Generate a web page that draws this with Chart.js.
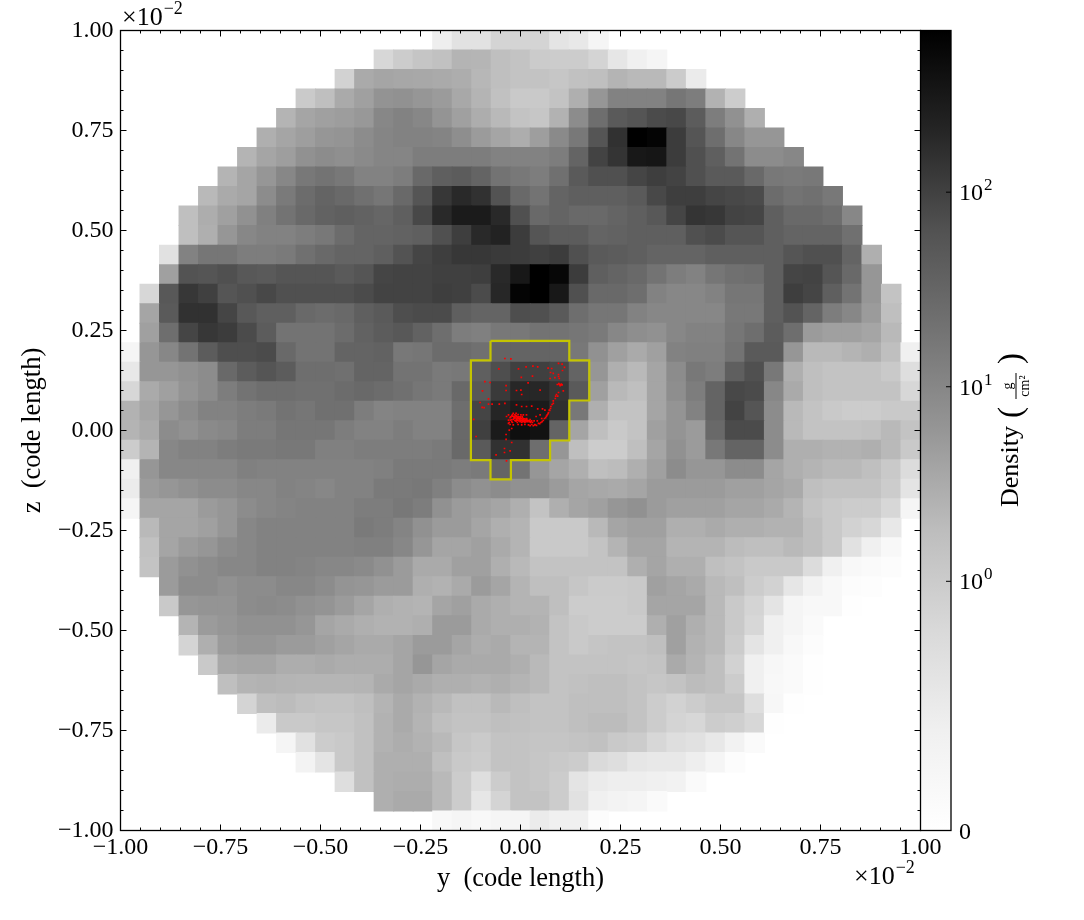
<!DOCTYPE html>
<html>
<head>
<meta charset="utf-8">
<style>
    body { margin: 0; background: #fff; overflow: hidden; }
    canvas { position: absolute; top: 0; }
</style>
<script src="https://cdn.jsdelivr.net/npm/chart.js@4/dist/chart.umd.js"></script>
</head>
<body>
<canvas id="sliceChart" width="1084" height="920" style="left:0"></canvas>
<canvas id="colorbar" width="164" height="920" style="left:920px"></canvas>
<script>
// first filled column of each row, top row first
const rowStart = [16, 13, 11, 9, 8, 7, 6, 5, 4, 3, 3, 2, 2, 1, 1, 1, 0, 0, 0, 0, 0, 0, 0, 0, 0, 1, 1, 1, 2, 2, 3, 3, 4, 5, 6, 7, 8, 9, 11, 13, 16];

// density in g/cm2, one list per row
const density = [
    [.44,.64,.64,.88,.88,.88,.61,.54,.27],
    [.83,.99,1.3,1.55,2.4,2.3,1.7,1.4,1.03,.99,.99,.88,.57,.4,.27],
    [.91,3.2,3.8,3.6,3.5,3.2,3,2.2,1.7,1.4,1.4,1.25,1.55,1.7,2.4,2.06,2.06,1.03,.49],
    [1.05,1.7,3.2,4.4,6.6,7.1,6,5.1,3.5,2.4,1.55,1.1,1.1,1.4,2.8,6,11.7,11.7,11.7,17.5,13.9,2.55,.99],
    [2.4,3.8,4.4,4.8,5.6,9.9,11.7,9.9,6.4,4.4,3,2.06,1.4,1.25,2.55,8.4,23,48,58,76,83,44,13.9,7.1,2.8],
    [2.8,3.8,4.7,6,6.4,8.4,10.5,11.7,11.7,10.9,7.9,5.1,3.8,3,4.7,9,16.4,58,150,690,600,113,58,23,9.9,6,6],
    [2.4,3.8,4.7,7.1,8.4,7.6,9,10.5,10.5,13.9,13.9,13.9,13.9,11.7,11.7,11.7,13.9,33,95,140,310,340,113,67,40,19.5,8.4,8.4,9.9],
    [2.4,3.8,6,9.9,16.4,19.5,16.4,11.7,11.7,13.9,28,40,44,33,19.5,16.4,13.9,21.5,48,67,67,90,108,95,67,48,48,28,16.4,15.3,16.4],
    [2.06,3.2,3.8,8.4,15.3,25,33,28,21.5,17.5,28,58,130,185,150,62,28,19.5,33,40,40,40,48,83,108,108,90,83,76,25,19.5,21.5,16.4],
    [1.7,3,4.4,7.1,12.5,19.5,28,36,40,36,31,40,83,185,285,285,185,67,28,33,28,28,33,40,52,90,140,130,95,90,40,28,28,23,9.9],
    [1.7,2.8,6,9.9,11.7,11.7,13.9,16.4,25,33,33,36,40,67,108,185,230,113,58,44,44,33,36,40,40,40,67,76,58,58,40,33,33,33,21.5],
    [.66,11.7,17.5,17.5,13.9,13.9,15.3,21.5,28,33,33,40,62,90,108,130,130,120,113,103,113,67,48,44,40,33,33,33,40,40,40,40,58,67,67,33,2.8],
    [4.4,62,58,67,52,48,58,58,58,48,58,90,95,95,103,103,108,185,310,690,540,113,40,33,28,19.5,13.9,11.7,17.5,21.5,23,40,90,95,58,28,6],
    [.83,52,130,103,58,67,83,67,67,67,67,76,95,95,95,108,103,76,195,600,690,310,67,28,28,23,11.7,9.9,9.9,11.7,17.5,17.5,40,108,90,40,19.5,6,1.4],
    [3.8,48,150,150,90,52,40,40,28,25,28,40,48,70,76,76,40,33,33,70,67,48,23,17.5,17.5,11.7,9.9,9.9,9.9,9.9,16.4,16.4,40,62,33,13.9,9.9,5.1,1.7],
    [4.4,23,90,130,113,76,44,19.5,19.5,19.5,25,36,44,52,36,23,13.9,12.5,16.4,16.4,19.5,19.5,17.5,15.3,9.9,7.9,7.1,9.9,11.7,11.7,17.5,23,44,23,5.1,4.4,4.4,3.8,2.06],
    [.27,6,9.9,19.5,44,70,70,76,28,19.5,19.5,33,33,36,16.4,17.5,25,25,21.5,33,33,33,33,16.4,7.1,4.4,3.2,4.4,11.7,12.5,12.5,19.5,48,48,6,2.06,2.06,2.4,2.8,1.7,.4],
    [.54,6,6,7.1,8.4,28,44,58,44,23,23,21.5,33,33,19.5,19.5,15.3,16.4,40,70,103,103,90,33,6,2.8,2.06,3.8,8.4,16.4,13.9,40,67,16.4,2.8,1.7,1.4,1.4,1.4,1.1,.72],
    [.83,3.2,4.4,6.4,8.4,13.9,19.5,23,23,21.5,21.5,25,28,25,21.5,17.5,15.3,28,52,120,195,195,140,48,4.4,2.06,1.7,3.8,7.9,13.9,33,83,76,9.9,3.2,1.7,1.4,1.4,1.4,1.4,.83],
    [2.55,3.8,6,8.4,11.7,11.7,13.9,15.3,19.5,17.5,21.5,21.5,13.9,10.9,11.7,11.7,11.7,23,90,205,285,285,160,16.4,2.8,1.4,1.4,3.8,6.4,11.7,33,95,58,8.4,2.06,1.4,1.1,.99,.99,1.1,1.1],
    [2.4,3.2,8.4,7.1,9,9.9,13.9,13.9,17.5,17.5,17.5,13.9,11.7,11.7,13.9,11.7,11.7,28,103,285,420,380,33,3.8,1.7,1.1,1.4,4.4,6.4,5.1,28,76,76,8.4,2.06,1.4,1.4,1.4,1.55,2.06,1.4],
    [.99,2.4,9.9,11.7,11.7,13.9,15.3,15.3,16.4,16.4,12.5,12.5,13.9,13.9,13.9,13.9,15.3,28,48,150,150,23,6,1.7,.99,.99,1.7,3.8,7.1,5.1,16.4,33,33,8.4,2.8,2.8,2.55,2.55,2.8,2.06,1.1],
    [.4,6,9.9,9.9,9.9,9.9,12.5,11.7,11.7,11.7,11.7,11.7,11.7,12.5,15.3,15.3,15.3,13.9,15.3,33,19.5,6,3.8,2.8,1.7,1.9,2.8,4.4,8.4,6,6,8.4,8.4,3.8,2.8,2.4,2.06,2.06,1.7,1.1,.75],
    [.49,5.1,6,7.1,8.4,8.4,9.9,9.9,11.7,10.9,9.9,11.7,11.7,15.3,15.3,16.4,12.5,8.4,7.1,8.4,7.1,7.1,5.1,3.8,3.5,3.2,3.8,5.1,5.1,5.1,5.1,4.4,4.4,3.8,3.2,1.7,1.4,1.4,1.4,.99,.61],
    [.27,3.8,3.8,3.8,5.1,6,8.4,9.9,10.9,11.7,11.7,11.7,13.9,13.9,16.4,13.9,7.1,5.1,4.4,3.8,2.8,1.4,2.8,3.8,4.4,6,7.1,5.1,4.4,4.4,4.4,3.8,3.8,3.2,2.4,1.4,1.1,.99,.99,.83,.27],
    [2.06,3.8,3.8,4.4,6,9.9,11.7,11.7,11.7,11.7,11.7,15.3,13.9,10.9,7.1,5.1,5.1,3.8,2.8,2.4,1.1,1.1,1.1,2.06,3.8,4.4,4.4,2.8,2.8,3.2,2.8,2.8,2.55,2.55,1.7,1.1,.91,.83,.54],
    [1.55,3.8,5.1,6,8.4,9.9,11.7,11.7,11.7,11.7,11.7,12.5,12.5,9.9,6,3.8,3.8,4.4,3.2,2.4,1.1,1.1,1.1,1.4,2.4,3.8,3.8,2.4,2.4,2.4,1.9,1.7,1.7,2.06,1.7,1.1,.66,.4,.18],
    [1.4,5.1,7.1,8.4,9.9,9.9,11.7,11.7,10.9,9.9,9.9,9,7.1,5.1,3.2,3.2,4.4,4.4,2.8,2.06,1.4,1.4,1.4,1.4,1.4,2.8,3.8,2.8,2.8,1.7,1.4,1.1,1.1,1.1,.75,.4,.2,.13,.08],
    [5.1,8.4,8.4,7.1,8.4,8.4,9.9,9.9,8.4,6.4,6,5.1,5.1,2.8,2.55,3.2,5.1,3.8,2.4,1.7,1.7,1.25,1.03,1.03,1.1,4.4,3.8,3.2,2.06,1.7,.99,.91,.57,.34,.18,.08,.05],
    [1.1,6,6.4,6.4,8.4,9,8.4,7.1,6.4,5.1,3.8,2.8,2.55,2.4,3.8,4.4,3.2,2.8,2.4,2.4,1.7,.99,.99,.99,1.1,3.8,3.8,3.8,2.06,1.1,.88,.61,.27,.18,.18,.03],
    [2.4,5.1,6,7.1,7.1,7.1,6,3.8,3.2,2.8,2.55,2.55,2.8,5.1,5.1,3.2,2.8,2.8,2.55,1.4,1.1,.99,.99,.99,2.8,4.4,2.8,2.06,1.1,.83,.4,.27,.13],
    [.88,2.8,5.1,6,6,5.1,5.1,4.4,3.8,3.2,3.2,3.8,5.1,5.1,3.8,3,3.2,2.4,2.4,1.4,1.1,1.3,1.4,1.4,1.7,4.4,2.55,2.06,.99,.61,.4,.2,.08],
    [1.1,3.5,3.8,3.8,3,3,3.2,3,3,3,3.8,6,3.8,3.2,3.2,3.2,2.8,2.06,1.4,1.4,1.4,1.4,1.3,1.4,3.2,2.4,1.7,.91,.4,.22,.13,.03],
    [1.7,2.4,2.55,2.4,2.3,2.3,2.3,2.4,3.2,3.8,3.2,2.8,2.8,2.55,2.8,2.4,2.06,1.4,1.55,1.7,1.7,1.4,1.25,1.4,1.9,1.7,.99,.4,.2,.13,.03],
    [.88,1.7,1.9,1.55,1.4,1.4,1.7,2.4,3.2,2.55,2.06,1.55,1.55,2.06,1.7,1.4,1.4,1.7,1.7,1.7,1.4,.99,.91,.99,1.25,1.25,.72,.22,.03],
    [.49,1.1,1.1,1.25,1.25,1.55,2.55,3.2,2.4,1.7,1.4,1.4,1.7,1.55,1.4,1.4,1.7,1.9,1.9,1.4,.99,.88,.83,.99,.94,.83,.03],
    [.27,.66,.99,1.1,1.55,2.55,3,2.55,2.06,1.25,1.05,1.4,1.4,1.3,1.3,1.4,1.55,1.1,.99,.83,.72,.66,.54,.34,.13],
    [.32,.61,1.1,1.55,2.8,2.8,2.8,1.7,1.1,.99,1.4,1.4,1.25,1.1,.99,.79,.72,.57,.54,.54,.44,.27,.08],
    [.72,1.55,2.8,3,3,2.06,.99,.72,.99,1.4,1.25,.99,.61,.49,.44,.44,.4,.34,.13],
    [2.8,3.2,3.2,2.06,.99,.57,.88,1.4,1.4,.99,.66,.4,.32,.27,.13],
    [.18,.27,.18,.27,.27,.49,.4,.4,.08]
];

// yellow outline, y and z in units of 1e-2 code length
const contourY = [-.075, .122, .122, .172, .172, .122, .122, .074, .074, -.024, -.024, -.075, -.075, -.124, -.124, -.075, -.075];
const contourZ = [.224, .224, .1755, .1755, .075, .075, -.025, -.025, -.074, -.074, -.122, -.122, -.074, -.074, .1755, .1755, .224];

// red particles, same units
const particleY = [-.039,-.024,-.054,-.005,.014,.031,.043,.069,.078,.095,.104,.110,.105,.082,.095,.074,.086,.097,.002,.030,-.089,-.076,-.095,-.036,-.036,-.010,.001,.003,.019,.049,-.101,-.096,-.091,-.080,-.080,-.071,-.053,-.039,-.117,-.111,-.036,-.022,-.040,-.026,-.040,-.061,-.035,-.010,.003,.015,.028,.043,.055,.061,
    .092,.097,.101,.104,.095,.090,.088,.093,.107,.087,.082,.079,.075,.070,.067,.063,.057,.051,.045,.036,.028,.020,.011,.003,.049,.039,.072,.082,.095,.075,
    -.035,-.030,-.026,-.022,-.020,-.018,-.016,-.014,-.014,-.011,-.010,-.008,-.006,-.006,-.003,-.001,.000,.003,.005,.007,.009,.011,.014,.015,.017,.020,.022,.024,.025,.028,.030,.034,-.025,-.022,-.020,-.028,-.030,-.026,-.018,-.010,-.008,-.001,.003,.005,.011,-.014,-.018,-.011,-.006,.001,.007,.015,-.022,-.028,-.036,-.030,-.006,.036,.042,.053,
    -.024,-.020,-.016,-.012,-.008,-.004,.000,.004,.008,.012,.016,-.022,-.018,-.014,-.010,-.006,-.002,.002,.006,.010,.014,.018,.022,.026,-.012,-.008,-.004,.000,.004,.008,.012,.076,.073,.069,.065,.060,.054,.048,.040,.032,.024,.096,.099,.102];
const particleZ = [.180,.179,.154,.154,.159,.161,.159,.156,.155,.168,.166,.158,.150,.143,.140,.130,.132,.130,.133,.136,.122,.120,.099,.112,.100,.100,.101,.090,.119,.101,.070,.058,.057,.079,.066,.066,.066,.068,.028,-.015,-.022,-.030,-.045,-.051,-.055,-.061,-.076,.064,.060,.060,.061,.054,.054,.051,
    .115,.115,.114,.114,.095,.090,.086,.086,.099,.080,.074,.065,.055,.045,.039,.032,.025,.020,.018,.015,.015,.014,.015,.014,.039,.035,.051,.068,.135,.145,
    .035,.039,.032,.037,.040,.035,.030,.039,.034,.030,.036,.032,.035,.029,.030,.034,.029,.030,.032,.028,.024,.029,.026,.030,.024,.025,.022,.027,.020,.024,.020,.024,.026,.022,.020,.020,.026,.015,.014,.024,.020,.022,.020,.024,.020,.025,.043,.043,.040,.039,.039,.039,.005,.001,-.010,.018,.015,.014,.024,.030,
    .034,.036,.033,.037,.033,.034,.032,.035,.029,.026,.028,.027,.028,.032,.027,.031,.027,.026,.027,.024,.022,.022,.024,.022,.024,.026,.024,.024,.022,.022,.024,.060,.050,.042,.036,.030,.022,.017,.013,.012,.012,.117,.112,.116];

const gridSize = 41;
const cbTickValues = [0, 1, 10, 100];

// Greys colormap stops, white to black
const greysStops = [255, 240, 217, 189, 150, 115, 82, 37, 0];

const serif = '"Liberation Serif", "DejaVu Serif", serif';

// symlog colour norm: 0 at the bottom, 1 at 31% of the bar, 0.243 per decade above
function normDensity(v) {
    return v < 1 ? v * 0.3115 : Math.min(1, 0.3115 + 0.2432 * Math.log10(v));
}

function greys(f) {
    const p = f * (greysStops.length - 1);
    const i = Math.min(Math.floor(p), greysStops.length - 2);
    const g = Math.round(greysStops[i] + (greysStops[i + 1] - greysStops[i]) * (p - i));
    return 'rgb(' + g + ',' + g + ',' + g + ')';
}

const cells = [];
density.forEach((row, r) => {
    row.forEach((v, k) => {
        cells.push({
            x: -1 + (rowStart[r] + k + 0.5) * 2 / gridSize,
            y: 1 - (r + 0.5) * 2 / gridSize,
            v: v
        });
    });
});

const contour = contourY.map((y, i) => ({ x: y, y: contourZ[i] }));
const particles = particleY.map((y, i) => ({ x: y, y: particleZ[i] }));

// text with a raised exponent, used for 10^2 and the x10^-2 offsets
function drawPower(ctx, base, power, x, y, size) {
    ctx.textAlign = 'left';
    ctx.textBaseline = 'alphabetic';
    ctx.font = size + 'px ' + serif;
    ctx.fillText(base, x, y);
    const w = ctx.measureText(base).width;
    ctx.font = Math.round(size * 0.7) + 'px ' + serif;
    ctx.fillText(power, x + w + 1, y - size * 0.42);
}

const frameAndTicks = {
    id: 'frameAndTicks',
    afterDatasetsDraw(chart) {
        const { ctx, chartArea: a, scales } = chart;
        ctx.save();
        ctx.strokeStyle = '#000';
        ctx.lineWidth = 1;
        ctx.beginPath();
        for (let i = 0; i <= 40; i++) {
            const v = -1 + i * 0.05;
            const len = i % 5 === 0 ? 6 : 3;
            const px = scales.x.getPixelForValue(v);
            const py = scales.y.getPixelForValue(v);
            ctx.moveTo(px, a.bottom); ctx.lineTo(px, a.bottom - len);
            ctx.moveTo(px, a.top); ctx.lineTo(px, a.top + len);
            ctx.moveTo(a.left, py); ctx.lineTo(a.left + len, py);
            ctx.moveTo(a.right, py); ctx.lineTo(a.right - len, py);
        }
        ctx.stroke();
        ctx.lineWidth = 1.3;
        ctx.strokeRect(a.left, a.top, a.right - a.left, a.bottom - a.top);

        ctx.fillStyle = '#000';
        drawPower(ctx, '\u00d710', '\u22122', 122, 25, 26);
        drawPower(ctx, '\u00d710', '\u22122', 854, 884, 26);
        ctx.restore();
    }
};

const sliceCtx = document.getElementById('sliceChart').getContext('2d');
const sliceChart = new Chart(sliceCtx, {
    type: 'scatter',
    data: {
        datasets: [{
            label: 'particles',
            data: particles,
            order: 1,
            pointStyle: 'rect',
            pointRadius: 1.2,
            pointBorderWidth: 0,
            pointBackgroundColor: '#ff0000'
        }, {
            label: 'contour',
            data: contour,
            order: 2,
            showLine: true,
            borderColor: '#c4c400',
            borderWidth: 2.2,
            pointRadius: 0
        }, {
            label: 'density',
            data: cells,
            order: 3,
            pointStyle: 'rect',
            pointBorderWidth: 0,
            pointRadius: ctx => (ctx.chart.scales.x.width / gridSize + 1) * Math.SQRT1_2,
            pointBackgroundColor: ctx => greys(normDensity(ctx.raw.v))
        }]
    },
    options: {
        responsive: false,
        animation: false,
        events: [],
        layout: { padding: { top: 30.5, right: 163.5, left: 0, bottom: 0 } },
        plugins: { legend: { display: false }, tooltip: { enabled: false } },
        scales: {
            x: {
                type: 'linear',
                min: -1,
                max: 1,
                afterFit: scale => { scale.height = 89.5; },
                grid: { display: false },
                border: { display: false },
                ticks: {
                    stepSize: 0.25,
                    maxRotation: 0,
                    autoSkip: false,
                    padding: -5,
                    color: '#000',
                    font: { family: serif, size: 24 },
                    callback: v => v.toFixed(2).replace('-', '\u2212')
                },
                title: {
                    display: true,
                    text: 'y  (code length)',
                    color: '#000',
                    font: { family: serif, size: 26.5 },
                    padding: { top: 0, bottom: 25 }
                }
            },
            y: {
                type: 'linear',
                min: -1,
                max: 1,
                afterFit: scale => { scale.width = 120.5; },
                grid: { display: false },
                border: { display: false },
                ticks: {
                    stepSize: 0.25,
                    autoSkip: false,
                    padding: -1,
                    color: '#000',
                    font: { family: serif, size: 24 },
                    callback: v => v.toFixed(2).replace('-', '\u2212')
                },
                title: {
                    display: true,
                    text: 'z  (code length)',
                    color: '#000',
                    font: { family: serif, size: 26.5 },
                    padding: { top: 17, bottom: 0 }
                }
            }
        }
    },
    plugins: [frameAndTicks]
});

const colorbarDecor = {
    id: 'colorbarDecor',
    afterDatasetsDraw(chart) {
        const { ctx, chartArea: a, scales } = chart;
        ctx.save();
        ctx.strokeStyle = '#000';
        ctx.fillStyle = '#000';
        ctx.lineWidth = 1.3;
        ctx.strokeRect(a.left, a.top, a.right - a.left, a.bottom - a.top);
        ctx.lineWidth = 1;
        cbTickValues.forEach(v => {
            const py = scales.y.getPixelForValue(normDensity(v));
            if (v === 0) {
                ctx.font = '24px ' + serif;
                ctx.textAlign = 'left';
                ctx.textBaseline = 'alphabetic';
                ctx.fillText('0', a.right + 8, py + 8);
                return;
            }
            ctx.beginPath();
            ctx.moveTo(a.right - 5, py);
            ctx.lineTo(a.right, py);
            ctx.stroke();
            drawPower(ctx, '10', String(Math.round(Math.log10(v))), a.right + 8, py + 8, 24);
        });

        // rotated label with the unit fraction, reading bottom to top
        ctx.translate(98, 0);
        ctx.rotate(-Math.PI / 2);
        ctx.textAlign = 'left';
        ctx.textBaseline = 'alphabetic';
        ctx.font = '26px ' + serif;
        ctx.fillText('Density', -507, 0);
        ctx.font = '33px ' + serif;
        ctx.fillText('(', -418, 3);
        ctx.fillText(')', -364, 3);
        ctx.textAlign = 'center';
        ctx.font = '14px ' + serif;
        ctx.fillText('g', -386, -6);
        ctx.fillText('cm\u00b2', -386, 11);
        ctx.lineWidth = 1;
        ctx.beginPath();
        ctx.moveTo(-399, -2);
        ctx.lineTo(-373, -2);
        ctx.stroke();
        ctx.restore();
    }
};

const barCtx = document.getElementById('colorbar').getContext('2d');
const colorbar = new Chart(barCtx, {
    type: 'bar',
    data: {
        labels: ['Density'],
        datasets: [{
            data: [[0, 1]],
            barPercentage: 1,
            categoryPercentage: 1,
            backgroundColor: ctx => {
                const a = ctx.chart.chartArea;
                if (!a) return '#888';
                const grad = ctx.chart.ctx.createLinearGradient(0, a.bottom, 0, a.top);
                greysStops.forEach((g, i) => {
                    grad.addColorStop(i / (greysStops.length - 1), 'rgb(' + g + ',' + g + ',' + g + ')');
                });
                return grad;
            }
        }]
    },
    options: {
        responsive: false,
        animation: false,
        events: [],
        layout: { padding: { left: 0.5, right: 133, top: 30.5, bottom: 89.5 } },
        plugins: { legend: { display: false }, tooltip: { enabled: false } },
        scales: {
            x: { display: false },
            y: { display: false, min: 0, max: 1 }
        }
    },
    plugins: [colorbarDecor]
});
</script>
</body>
</html>
